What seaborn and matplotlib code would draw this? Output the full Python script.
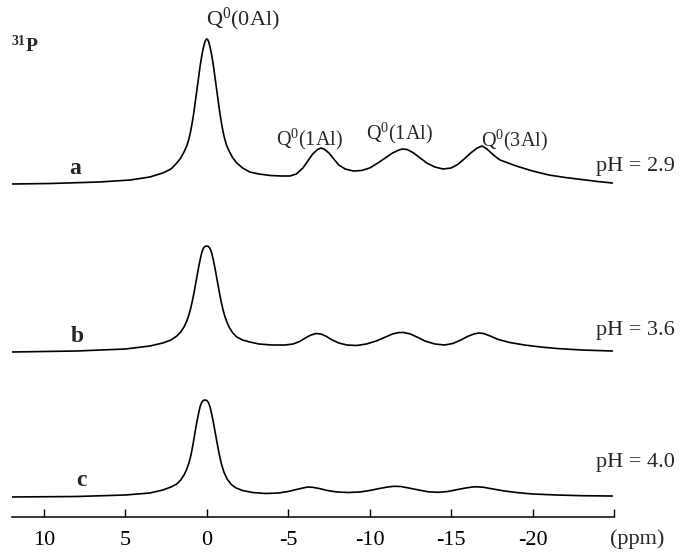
import matplotlib
matplotlib.use("Agg")
import matplotlib.pyplot as plt
import numpy as np
import pandas as pd
import seaborn as sns

# ---- data: chemical shift (ppm) and intensity above each trace's baseline ----
ppm_a = [11.96, 9.6, 6.6, 4.7, 3.5, 2.7, 2.2, 1.84, 1.6, 1.4, 1.23, 1.1, 1.0, 0.9, 0.8, 0.7, 0.6, 0.5, 0.4,
         0.3, 0.2, 0.12, 0.05, 0.0, -0.05, -0.12, -0.2, -0.3, -0.4, -0.5, -0.6, -0.7, -0.8, -0.9, -1.0,
         -1.1, -1.23, -1.4, -1.6, -1.84, -2.2, -2.64, -3.2, -3.9, -4.6, -5.1, -5.5, -5.9, -6.2, -6.5, -6.8,
         -7.0, -7.2, -7.5, -7.8, -8.1, -8.5, -9.0, -9.5, -10.0, -10.5, -11.0, -11.4, -11.8, -12.0, -12.3,
         -12.7, -13.1, -13.5, -14.0, -14.5, -15.0, -15.4, -15.8, -16.2, -16.6, -16.9, -17.2, -17.6, -18.0,
         -18.5, -19.0, -20.0, -21.0, -22.0, -23.0, -24.0, -24.9]
int_a = [0, 0.5, 2, 4, 7, 11, 15, 21, 26, 32, 38, 45, 52, 61, 71, 83, 95, 107, 119,
         129, 137, 142, 144.5, 145, 144.5, 142, 137, 129, 119, 107, 95, 83, 71, 61, 52,
         45, 38, 32, 26, 21, 16, 12, 10, 8.5, 8, 8, 10, 16, 23, 30, 34.5,
         36, 35, 31, 25, 19, 15, 13, 13.5, 16, 21, 26.5, 31, 34, 35, 34.5,
         31, 26, 21, 17, 15, 16, 19.5, 25, 31, 36, 38, 35, 29, 24,
         21, 18, 13, 9, 6.5, 4.5, 2.5, 1]

ppm_b = [12, 8, 5, 3.5, 2.7, 2.2, 1.84, 1.6, 1.4, 1.23, 1.1, 1.0, 0.9, 0.8, 0.7, 0.6, 0.5, 0.4, 0.3,
         0.2, 0.1, 0.0, -0.1, -0.2, -0.3, -0.4, -0.5, -0.6, -0.7, -0.8, -0.9, -1.0, -1.1, -1.23, -1.4,
         -1.6, -1.84, -2.2, -2.64, -3.2, -4.0, -4.8, -5.3, -5.7, -6.1, -6.4, -6.7, -7.0, -7.3, -7.7, -8.1,
         -8.6, -9.2, -9.8, -10.4, -10.9, -11.4, -11.8, -12.1, -12.5, -12.9, -13.4, -14.0, -14.6, -15.1,
         -15.6, -16.0, -16.4, -16.7, -17.0, -17.4, -17.9, -18.6, -19.5, -20.5, -21.5, -23.0, -24.9]
int_b = [0, 1, 3, 6, 9, 12, 16, 20, 25, 31, 37, 43, 50, 58, 67, 76, 85, 93, 100,
         104, 105.7, 106, 105.5, 103.5, 99, 92, 84, 75, 66, 57, 49, 42, 36, 30, 24,
         19, 15, 12, 10, 8, 7, 7, 8, 10.5, 14.5, 17, 18.5, 18, 16, 12, 9,
         7, 6.5, 8, 11, 14.5, 18, 19.5, 19.5, 18, 15, 11, 8, 7, 8.5,
         12, 15.5, 18, 19, 18.5, 16, 12.5, 9.5, 7, 5, 3.5, 2, 1]

ppm_c = [12, 8, 5, 3.5, 2.7, 2.2, 1.84, 1.6, 1.4, 1.25, 1.1, 1.0, 0.9, 0.8, 0.7, 0.6, 0.5, 0.4, 0.3,
         0.2, 0.1, 0.0, -0.1, -0.2, -0.3, -0.4, -0.5, -0.6, -0.7, -0.8, -0.9, -1.05, -1.25, -1.5, -1.8,
         -2.2, -2.8, -3.6, -4.4, -5.0, -5.5, -5.9, -6.2, -6.5, -6.9, -7.4, -8.0, -8.7, -9.4, -10.0,
         -10.6, -11.1, -11.5, -11.9, -12.4, -13.0, -13.6, -14.2, -14.8, -15.4, -15.9, -16.3, -16.6,
         -17.0, -17.5, -18.2, -19.0, -20.0, -21.5, -23.0, -24.9]
int_c = [0, 0.5, 2, 4, 7, 10, 13, 17, 22, 27, 34, 40, 48, 57, 67, 76, 84, 91, 95,
         96.7, 97, 96.5, 94.5, 90, 83, 75, 66, 57, 48, 40, 33, 25, 18, 12.5, 9,
         6.5, 4.5, 3.5, 4, 5.5, 7.5, 9, 10, 9.7, 8.5, 6.5, 5, 4.5, 5, 6.5,
         8.5, 10, 10.7, 10.5, 9, 7, 5.2, 4.7, 5.5, 7.5, 9, 10, 10.2,
         9.7, 8.2, 6.2, 4.5, 3, 2, 1.3, 1]

samples = ["a", "b", "c"]
ph_labels = ["pH = 2.9", "pH = 3.6", "pH = 4.0"]
peak_labels = ["Q$^0$(0Al)", "Q$^0$(1Al)", "Q$^0$(1Al)", "Q$^0$(3Al)"]
tick_values = [10, 5, 0, -5, -10, -15, -20, -25]
tick_labels = ["10", "5", "0", "-5", "-10", "-15", "-20", ""]

# ---- styling ----
sns.set_theme(style="white")
plt.rcParams["font.family"] = ["Liberation Serif", "DejaVu Serif"]
plt.rcParams["mathtext.fontset"] = "custom"
plt.rcParams["mathtext.rm"] = "Liberation Serif"
plt.rcParams["mathtext.it"] = "Liberation Serif:italic"
plt.rcParams["mathtext.bf"] = "Liberation Serif:bold"

offsets = {"a": 333, "b": 165, "c": 20}

frames = []
for s, p, v in zip(samples, [ppm_a, ppm_b, ppm_c], [int_a, int_b, int_c]):
    frames.append(pd.DataFrame({"ppm": p, "y": np.array(v, float) + offsets[s], "sample": s}))
df = pd.concat(frames, ignore_index=True)

fig = plt.figure(figsize=(6.83, 5.53), dpi=100)
ax = fig.add_axes([12 / 683, 36 / 553, 602 / 683, 517 / 553])

sns.lineplot(data=df, x="ppm", y="y", hue="sample", units="sample", estimator=None,
             palette={"a": "black", "b": "black", "c": "black"}, linewidth=1.2,
             legend=False, ax=ax, sort=False)
for ln in ax.lines:
    ln.set_solid_joinstyle("round")

ax.set_xlim(11.96, -25)
ax.set_ylim(0, 517)
ax.set_xlabel("")
ax.set_ylabel("")
ax.set_yticks([])
ax.set_xticks(tick_values)
ax.set_xticklabels(tick_labels, fontsize=16)
ax.tick_params(axis="x", direction="in", length=6, width=1, pad=10, colors="black", bottom=True)
for sp in ["top", "left", "right"]:
    ax.spines[sp].set_visible(False)
ax.spines["bottom"].set_color("black")
ax.spines["bottom"].set_linewidth(1.1)
ax.patch.set_alpha(0)

# annotations
ax.text(-26.44, -22, "(ppm)", fontsize=16, ha="center", va="center", clip_on=False)
ax.text(11.15, 472, r"$^{\mathbf{31}}\mathbf{P}$", fontsize=14, ha="center", va="center")
ax.text(-2.2, 498, peak_labels[0], fontsize=16, ha="center", va="center")
ax.text(-6.32, 378, peak_labels[1], fontsize=14.5, ha="center", va="center")
ax.text(-11.84, 384, peak_labels[2], fontsize=14.5, ha="center", va="center")
ax.text(-18.9, 377, peak_labels[3], fontsize=14.5, ha="center", va="center")

for s, lx, ly in zip(samples, [8.1, 7.98, 7.67], [348, 181, 37]):
    ax.text(lx, ly, s, fontsize=17, fontweight="bold", ha="center", va="center")
for t, ly in zip(ph_labels, [351, 187, 54]):
    ax.text(-26.3, ly, t, fontsize=16, ha="center", va="center", clip_on=False)

fig.savefig("out.png", dpi=100)
